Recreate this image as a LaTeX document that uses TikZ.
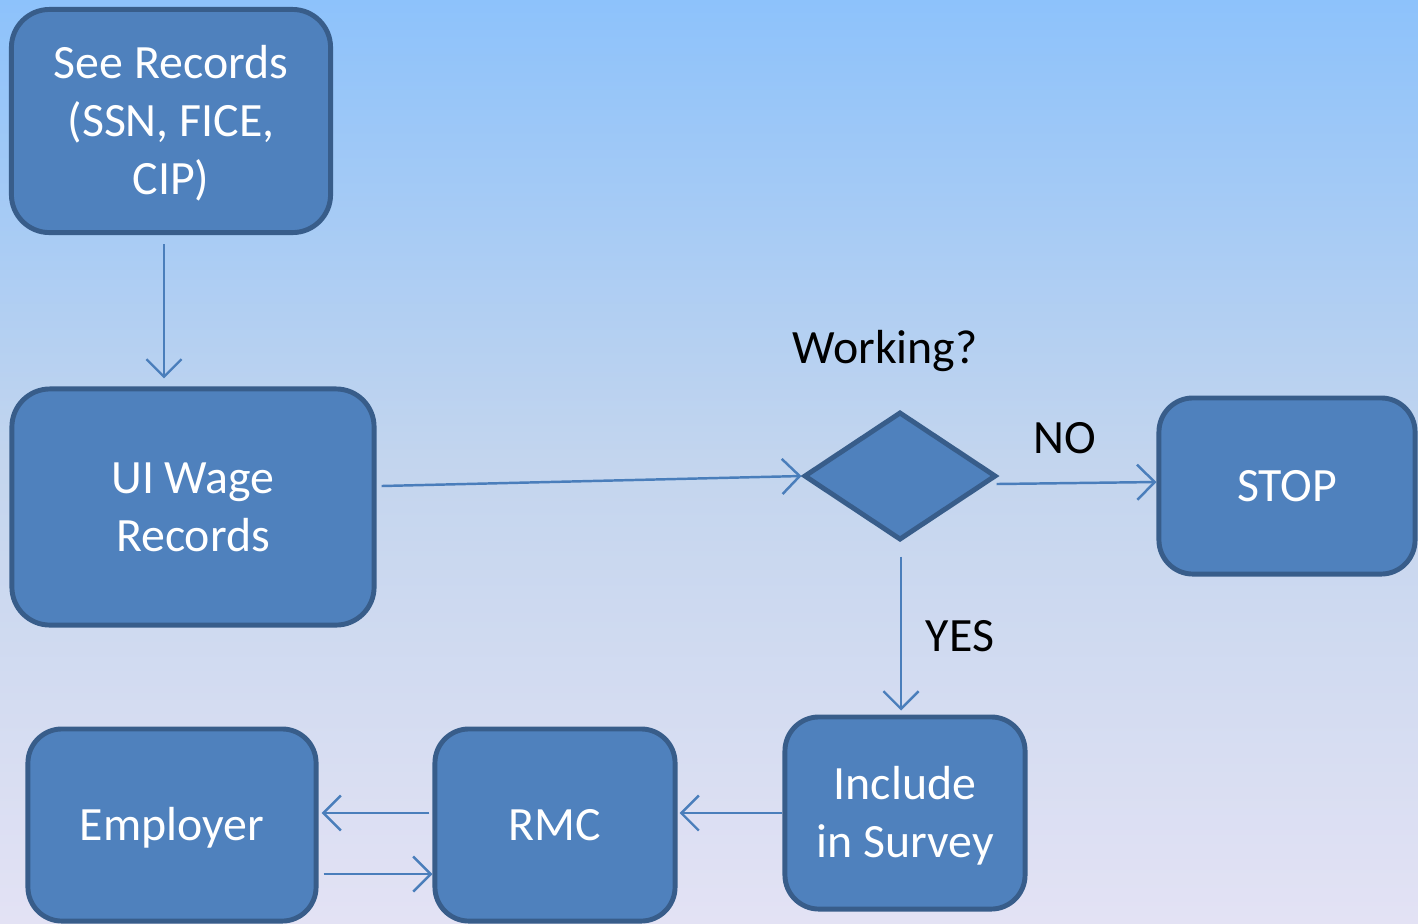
\documentclass[tikz,border=0pt]{standalone}
\usepackage{fontspec}
\setmainfont{Carlito}
\usetikzlibrary{shapes.geometric,arrows.meta,calc}
\definecolor{bgtop}{HTML}{8DC2FB}
\definecolor{bgmid}{HTML}{C3D5EE}
\definecolor{bgbot}{HTML}{E3E2F4}
\definecolor{boxfill}{HTML}{4F81BD}
\definecolor{boxline}{HTML}{385D8A}
\definecolor{arrcol}{HTML}{4A7EBB}
\newcommand{\boxtxt}[1]{\raisebox{-1.2pt}[\height][\depth]{\begin{tabular}{@{}c@{}}#1\end{tabular}}}
\tikzset{
  box/.style={draw=boxline, fill=boxfill, line width=1.4pt, rounded corners=0.38cm,
    text=white, align=center, inner sep=0pt,
    font=\fontsize{13.6pt}{16.5pt}\selectfont},
  dec/.style={draw=boxline, fill=boxfill, line width=1.4pt, shape=diamond, inner sep=0pt,
    shape aspect=1.49, minimum width=1.92cm, minimum height=1.28cm},
  lbl/.style={text=black, font=\fontsize{13.6pt}{16.5pt}\selectfont, inner sep=0pt},
  arr/.style={draw=arrcol, line width=0.7pt, -{Straight Barb[length=5pt,width=10pt,line width=0.7pt]}}
}
\begin{document}
\begin{tikzpicture}[x=0.01cm,y=-0.01cm]
\useasboundingbox (0,0) rectangle (1418,923);
\shade[top color=bgtop, bottom color=bgbot, middle color=bgmid] (0,0) rectangle (1418,923);

\node[box, minimum width=3.19cm, minimum height=2.23cm] (see) at (171,121) {\boxtxt{See Records\\(SSN, FICE,\\CIP)}};
\node[box, minimum width=3.62cm, minimum height=2.36cm] (ui) at (193,507) {\boxtxt{UI Wage\\Records}};
\node[dec] (dia) at (900,476) {};
\node[box, minimum width=2.56cm, minimum height=1.76cm, rounded corners=0.34cm] (stop) at (1287,486) {\boxtxt{STOP}};
\node[box, minimum width=2.40cm, minimum height=1.92cm, rounded corners=0.34cm] (inc) at (905,813) {\boxtxt{Include\\in Survey}};
\node[box, minimum width=2.40cm, minimum height=1.92cm, rounded corners=0.34cm] (rmc) at (555,825) {\boxtxt{RMC}};
\node[box, minimum width=2.88cm, minimum height=1.92cm, rounded corners=0.34cm] (emp) at (172,825) {\boxtxt{Employer}};

\node[lbl] (work) at (885,351) {Working?};
\node[lbl] (no) at (1065,438) {NO};
\node[lbl] (yes) at (960,636) {YES};

\coordinate (s1) at ($(see.south)+(-7,9)$);
\coordinate (s2) at ($(ui.north)+(-29,-8)$);
\draw[arr] (s1) -- (s2);
\coordinate (u1) at ($(ui.east)+(5,-21)$);
\draw[arr] (u1) -- (dia.west);
\coordinate (d1) at ($(dia.east)+(-2,8)$);
\coordinate (t1) at ($(stop.west)+(0,-4)$);
\draw[arr] (d1) -- (t1);
\coordinate (d2) at ($(dia.south)+(1,14)$);
\coordinate (i1) at ($(inc.north)+(-4,-4)$);
\draw[arr] (d2) -- (i1);
\coordinate (i2) at ($(inc.west)+(0,0)$);
\coordinate (r1) at ($(rmc.east)+(2,-12)$);
\draw[arr] (i2) -- (r1);
\coordinate (r2) at ($(rmc.west)+(-3,-12)$);
\coordinate (e1) at ($(emp.east)+(3,-12)$);
\draw[arr] (r2) -- (e1);
\coordinate (e2) at ($(emp.east)+(5,49)$);
\coordinate (r3) at ($(rmc.west)+(0,49)$);
\draw[arr] (e2) -- (r3);
\end{tikzpicture}
\end{document}
